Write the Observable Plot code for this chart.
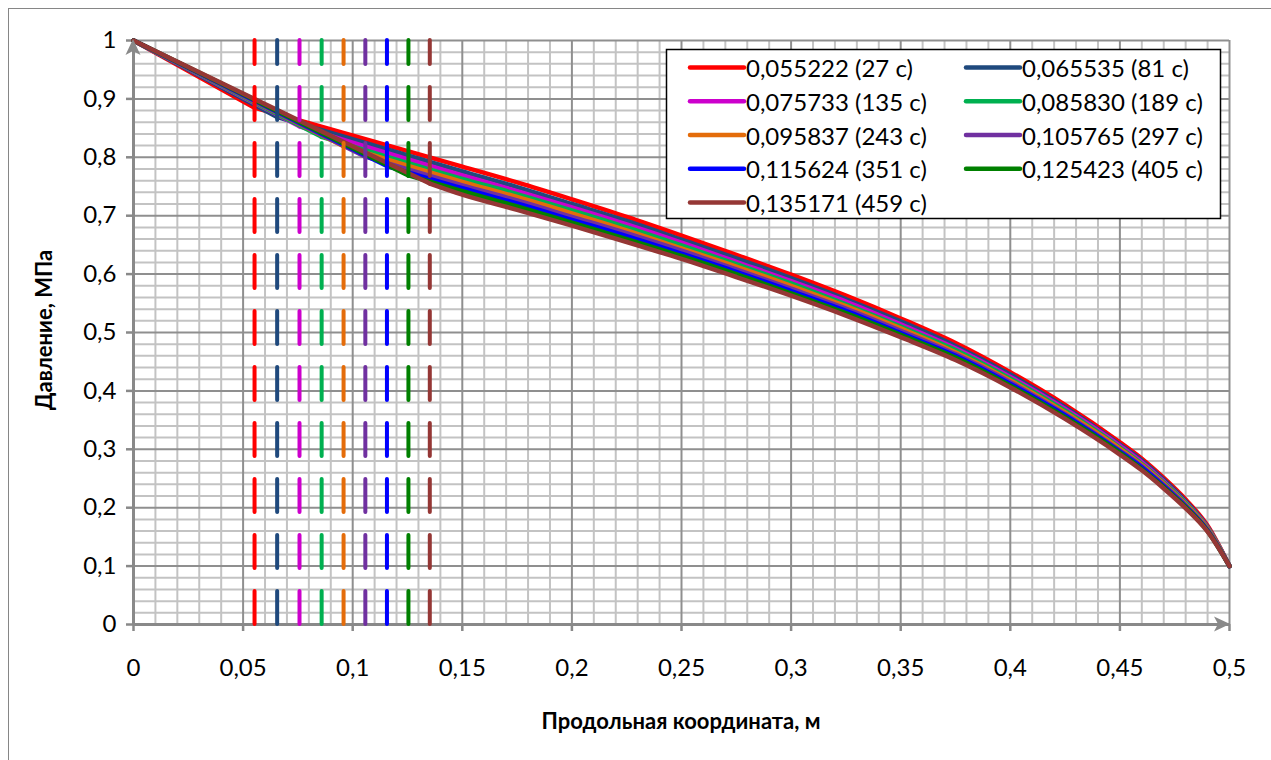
<!DOCTYPE html>
<html><head><meta charset="utf-8">
<script src="https://cdn.jsdelivr.net/npm/d3@7"></script>
<script src="https://cdn.jsdelivr.net/npm/@observablehq/plot@0.6"></script>
<style>
body{margin:0;background:#fff;}
#chart{position:relative;width:1271px;height:760px;overflow:hidden;}
#chart svg{font-family:Lato,"Open Sans",sans-serif;}
</style></head><body><div id="chart"></div>
<script>
// Front positions (m) and times (s)
const fronts = [0.055222, 0.065535, 0.075733, 0.085830, 0.095837, 0.105765, 0.115624, 0.125423, 0.135171];
const times = [27, 81, 135, 189, 243, 297, 351, 405, 459];
const names = ["0,055222 (27 с)","0,065535 (81 с)","0,075733 (135 с)","0,085830 (189 с)","0,095837 (243 с)","0,105765 (297 с)","0,115624 (351 с)","0,125423 (405 с)","0,135171 (459 с)"];
const colors = ["#ff0000","#1f497d","#cc00cc","#00b050","#e46c0a","#7030a0","#0000ff","#008000","#953735"];
// Pressure at the front (MPa)
const frontP = [0.885, 0.869, 0.853, 0.835, 0.819, 0.801, 0.785, 0.769, 0.755];
// Common x positions after the fronts
const xs = [0.15,0.175,0.2,0.225,0.25,0.275,0.3,0.325,0.35,0.375,0.4,0.425,0.45,0.46,0.47,0.48,0.49,0.5];
const p1 = [0.784,0.757,0.728,0.698,0.666,0.633,0.599,0.563,0.524,0.482,0.432,0.376,0.312,0.284,0.251,0.214,0.169,0.1];
const p2 = [0.776,0.749,0.720,0.691,0.659,0.627,0.593,0.557,0.519,0.477,0.428,0.372,0.308,0.281,0.248,0.211,0.167,0.1];
const p3 = [0.769,0.742,0.714,0.685,0.654,0.621,0.588,0.553,0.514,0.473,0.424,0.369,0.306,0.278,0.245,0.209,0.166,0.1];
const p4 = [0.763,0.737,0.709,0.680,0.649,0.617,0.584,0.548,0.510,0.470,0.421,0.366,0.303,0.275,0.243,0.208,0.165,0.1];
const p5 = [0.758,0.732,0.704,0.675,0.644,0.613,0.580,0.545,0.507,0.466,0.418,0.363,0.301,0.273,0.241,0.206,0.164,0.1];
const p6 = [0.752,0.726,0.698,0.670,0.640,0.608,0.575,0.541,0.503,0.463,0.415,0.360,0.298,0.271,0.239,0.204,0.162,0.1];
const p7 = [0.747,0.721,0.693,0.665,0.635,0.604,0.571,0.537,0.499,0.460,0.412,0.358,0.296,0.269,0.237,0.202,0.161,0.1];
const p8 = [0.742,0.716,0.688,0.660,0.631,0.600,0.567,0.533,0.496,0.457,0.409,0.355,0.294,0.266,0.235,0.201,0.160,0.1];
const p9 = [0.736,0.710,0.683,0.655,0.626,0.595,0.563,0.529,0.492,0.453,0.406,0.352,0.291,0.264,0.233,0.199,0.159,0.1];
const series = [p1,p2,p3,p4,p5,p6,p7,p8,p9];
const xTicks = [0,0.05,0.1,0.15,0.2,0.25,0.3,0.35,0.4,0.45,0.5];
const yTicks = [0,0.1,0.2,0.3,0.4,0.5,0.6,0.7,0.8,0.9,1];

const fmt = d => String(+d.toFixed(2)).replace(".", ",");
const xMinor = d3.range(1, 50).map(i => i/100).filter(v => Math.round(v*100) % 5 !== 0);
const yMinor = d3.range(1, 50).map(i => i/50).filter(v => Math.round(v*50) % 5 !== 0);

const lineMarks = series.flatMap((s, i) => {
  const pre = [{x:0, y:1}, {x:fronts[i], y:frontP[i]}];
  const post = [{x:fronts[i], y:frontP[i]}, ...xs.map((x, j) => ({x, y:s[j]}))];
  const opts = {x:"x", y:"y", stroke:colors[i], strokeWidth:4.5, strokeLinejoin:"round", strokeLinecap:"round"};
  return [Plot.line(pre, opts), Plot.line(post, {...opts, curve:"monotone-x"})];
});
const dashMarks = fronts.map((f, i) => Plot.ruleX([f], {y1:0, y2:1, stroke:colors[i], strokeWidth:4, strokeDasharray:"33,23", strokeLinecap:"round"}));

const chart = Plot.plot({
  width:1271, height:760,
  marginLeft:133, marginRight:42, marginTop:40, marginBottom:136,
  x:{domain:[0,0.5]}, y:{domain:[0,1]},
  style:{fontSize:"24px", fontFamily:"Lato, 'Open Sans', sans-serif", background:"white", color:"black"},
  marks:[
    Plot.ruleX(xMinor, {stroke:"#c3c3c3", strokeWidth:2}),
    Plot.ruleY(yMinor, {stroke:"#c3c3c3", strokeWidth:2}),
    Plot.ruleX(xTicks.slice(1), {stroke:"#8f8f8f", strokeWidth:2}),
    Plot.ruleY(yTicks.slice(1), {stroke:"#8f8f8f", strokeWidth:2}),
    Plot.axisX({ticks:xTicks, tickFormat:fmt, tickSize:7, tickPadding:27, stroke:"#898989", strokeWidth:2.5, fill:"black", fontSize:24, label:null}),
    Plot.axisY({ticks:yTicks, tickFormat:fmt, tickSize:7, tickPadding:10, stroke:"#898989", strokeWidth:2.5, fill:"black", fontSize:24, label:null}),
    Plot.ruleY([0], {stroke:"#898989", strokeWidth:3}),
    Plot.ruleX([0], {stroke:"#898989", strokeWidth:3}),
    ...lineMarks,
    ...dashMarks
  ]
});
document.getElementById("chart").appendChild(chart);

const svg = d3.select(chart);
const X = v => chart.scale("x").apply(v), Y = v => chart.scale("y").apply(v);
// arrowheads
const ax = X(0.5), ay = Y(0);
svg.append("path").attr("d", `M${ax+1},${ay} L${ax-15},${ay-7.5} L${ax-11},${ay} L${ax-15},${ay+7.5} Z`).attr("fill","#898989");
const tx = X(0), ty = Y(1);
svg.append("path").attr("d", `M${tx},${ty-1} L${tx-7.5},${ty+15} L${tx},${ty+11} L${tx+7.5},${ty+15} Z`).attr("fill","#898989");
// outer frame
svg.append("rect").attr("x",8.5).attr("y",8.5).attr("width",1300).attr("height",800).attr("fill","none").attr("stroke","#868686").attr("stroke-width",1);
// axis titles
svg.append("text").attr("x",681).attr("y",720).attr("text-anchor","middle").attr("dominant-baseline","central")
  .attr("font-weight","bold").attr("font-size",22).text("Продольная координата, м");
svg.append("text").attr("transform","translate(43,330) rotate(-90)").attr("text-anchor","middle").attr("dominant-baseline","central")
  .attr("font-weight","bold").attr("font-size",22).text("Давление, МПа");
// legend
const lg = svg.append("g").attr("text-anchor","start");
lg.append("rect").attr("x",666.5).attr("y",49.5).attr("width",554).attr("height",169).attr("fill","white").attr("stroke","black").attr("stroke-width",1.5);
names.forEach((n, i) => {
  const col = i % 2, row = Math.floor(i/2);
  const x0 = col ? 966 : 690, y0 = 67.5 + row*33.75;
  lg.append("line").attr("x1",x0).attr("x2",x0+54).attr("y1",y0).attr("y2",y0).attr("stroke",colors[i]).attr("stroke-width",4.5).attr("stroke-linecap","round");
  lg.append("text").attr("x",x0+56).attr("y",y0).attr("text-anchor","start").attr("dominant-baseline","central").attr("font-size",24).text(n);
});
</script></body></html>
